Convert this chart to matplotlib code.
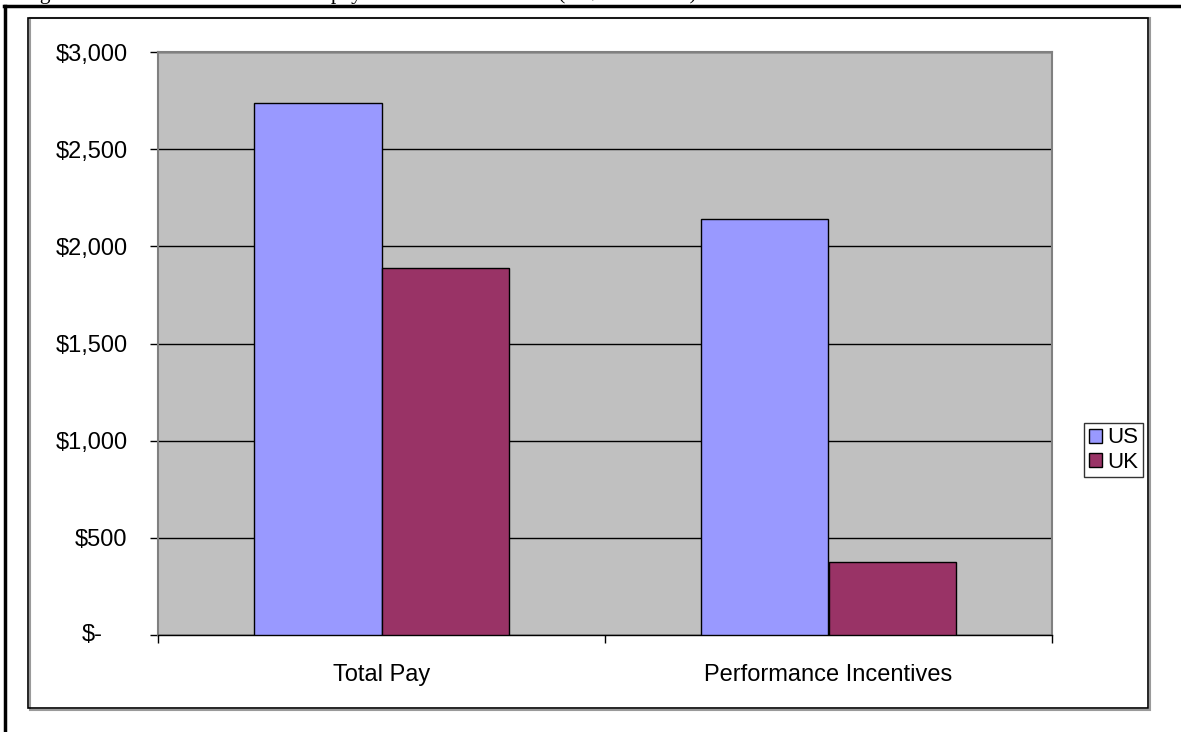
import matplotlib
matplotlib.use("Agg")
import matplotlib.pyplot as plt
from matplotlib.patches import Rectangle
from matplotlib.lines import Line2D
from matplotlib.ticker import FuncFormatter
import numpy as np

# data ($ thousands)
categories = ["Total Pay", "Performance Incentives"]
us_values = [2740, 2140]
uk_values = [1890, 376]
series_names = ["US", "UK"]
y_ticks = [0, 500, 1000, 1500, 2000, 2500, 3000]

US_COLOR = "#9999FF"
UK_COLOR = "#993366"
PLOT_BG = "#C0C0C0"
FS = 17

plt.rcParams["font.family"] = ["Liberation Sans", "DejaVu Sans"]

W, H = 1181, 732
fig = plt.figure(figsize=(W / 100, H / 100), dpi=100)
fig.patch.set_facecolor("white")

# clipped caption above the chart (only descenders show in the source)
fig.text(22 / W, 1 + 1 / H, "Figure 3: Median annual CEO total pay in the US and the UK (in $ thousands)",
         family=["Liberation Serif", "DejaVu Serif"], fontsize=15.5, va="baseline", ha="left")

# document frame (top and left) and chart frame
fig.add_artist(Line2D([4 / W, 1.0], [1 - 6 / H, 1 - 6 / H], color="black", lw=2.5,
                      transform=fig.transFigure))
fig.add_artist(Line2D([5 / W, 5 / W], [0, 1 - 6 / H], color="black", lw=2.5,
                      transform=fig.transFigure))
fig.add_artist(Rectangle((30 / W, 1 - 710 / H), 1120 / W, 692 / H, transform=fig.transFigure,
                         facecolor="none", edgecolor="#9a9a9a", lw=1.5))
fig.add_artist(Rectangle((28 / W, 1 - 708 / H), 1120 / W, 690 / H, transform=fig.transFigure,
                         facecolor="none", edgecolor="black", lw=1.2))

ax = fig.add_axes([158 / W, 97 / H, 894 / W, 583 / H])
ax.set_facecolor(PLOT_BG)

x = np.arange(len(categories))
bw = 0.286
ax.bar(x - bw / 2, us_values, bw, color=US_COLOR, edgecolor="black", lw=1.0,
       label=series_names[0], zorder=3)
ax.bar(x + bw / 2, uk_values, bw, color=UK_COLOR, edgecolor="black", lw=1.0,
       label=series_names[1], zorder=3)

ax.set_xlim(-0.5, len(categories) - 0.5)
ax.set_ylim(0, 3000)

ax.set_yticks(y_ticks)
ax.yaxis.set_major_formatter(FuncFormatter(lambda v, p: f"${v:,.0f}" if v else ""))
ax.tick_params(axis="y", direction="out", length=6, width=1, pad=16, labelsize=FS,
               color="black")
# Excel accounting style zero label
ax.text(-0.0615, 0, "$-", transform=ax.get_yaxis_transform(), ha="right", va="center",
        fontsize=FS)

ax.set_xticks(x)
ax.set_xticklabels(categories)
ax.tick_params(axis="x", length=0, pad=21, labelsize=FS)
ax.set_xticks(np.arange(-0.5, len(categories)), minor=True)
ax.tick_params(axis="x", which="minor", direction="out", length=6, width=1, color="black")

ax.yaxis.grid(True, color="black", lw=1.0, zorder=1)
ax.set_axisbelow(True)

for side in ["left", "top", "right"]:
    ax.spines[side].set_color("#808080")
    ax.spines[side].set_linewidth(1.5)
ax.spines["bottom"].set_color("black")
ax.spines["bottom"].set_linewidth(1.0)

leg = fig.legend(loc="upper right", bbox_to_anchor=(1143 / W, 1 - 423 / H), fontsize=16,
                 frameon=True, fancybox=False, edgecolor="black", handlelength=0.6,
                 handleheight=0.6, handletextpad=0.25, borderpad=0.2, labelspacing=0.15,
                 borderaxespad=0)
leg.get_frame().set_linewidth(1.0)

fig.savefig("out.png", dpi=100)
